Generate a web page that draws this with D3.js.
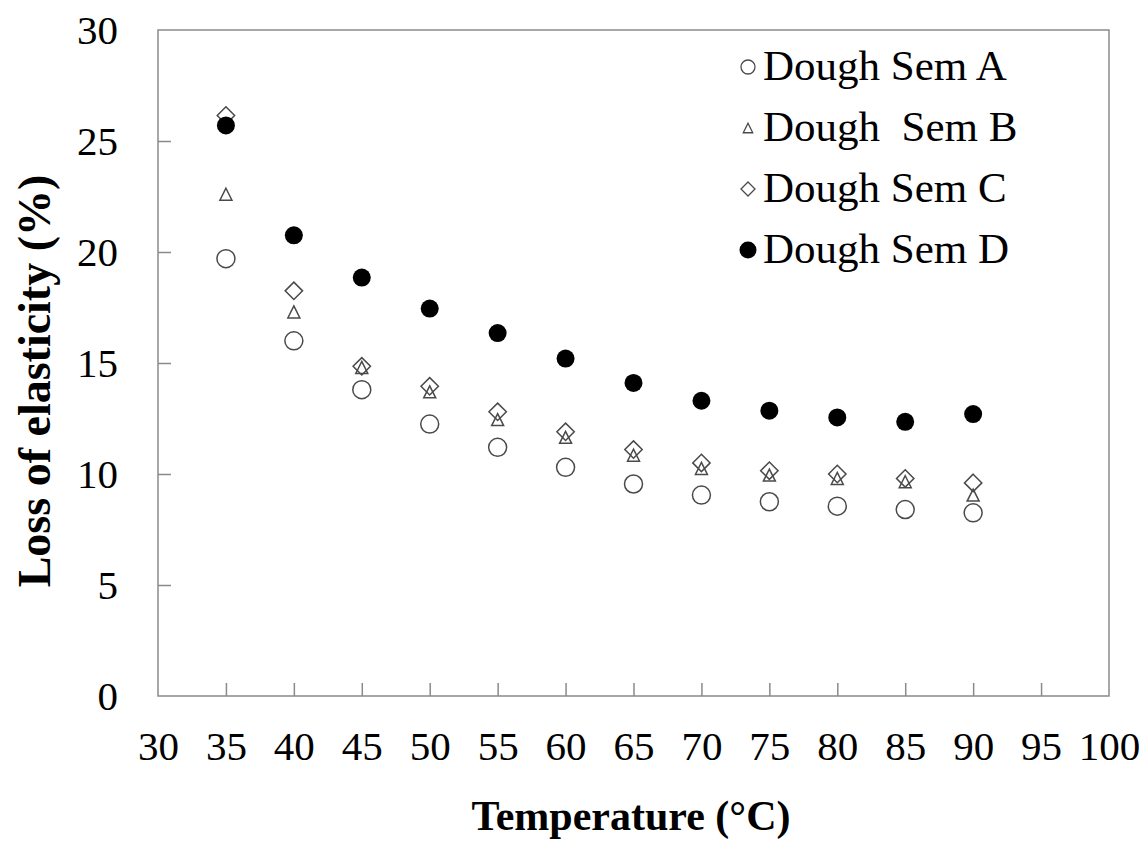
<!DOCTYPE html>
<html>
<head>
<meta charset="utf-8">
<script src="https://cdn.jsdelivr.net/npm/d3@7"></script>
<style>
  html, body { margin: 0; padding: 0; background: #fff; }
  svg { display: block; }
  text { font-family: "Liberation Serif", "Times New Roman", serif; fill: #000; }
</style>
</head>
<body>
<svg id="chart" width="1145" height="850"></svg>
<script>
// ---- data ----
const temperatures = [35, 40, 45, 50, 55, 60, 65, 70, 75, 80, 85, 90];
const semA = [19.7, 16.0, 13.8, 12.25, 11.2, 10.3, 9.55, 9.05, 8.75, 8.55, 8.4, 8.25];
const semB = [22.6, 17.3, 14.8, 13.7, 12.45, 11.65, 10.85, 10.25, 9.95, 9.8, 9.65, 9.05];
const semC = [26.15, 18.25, 14.85, 13.95, 12.8, 11.9, 11.1, 10.5, 10.15, 10.0, 9.8, 9.6];
const semD = [25.7, 20.75, 18.85, 17.45, 16.35, 15.2, 14.1, 13.3, 12.85, 12.55, 12.35, 12.7];
const seriesNames = ["Dough Sem A", "Dough  Sem B", "Dough Sem C", "Dough Sem D"];
const xTicks = [30, 35, 40, 45, 50, 55, 60, 65, 70, 75, 80, 85, 90, 95, 100];
const yTicks = [0, 5, 10, 15, 20, 25, 30];

(function () {
  // ---- layout ----
  const pLeft = 158, pRight = 1109, pTop = 30, pBottom = 696;
  const svg = d3.select("#chart");
  const x = d3.scaleLinear().domain([30, 100]).range([pLeft, pRight]);
  const y = d3.scaleLinear().domain([0, 30]).range([pBottom, pTop]);

  const frameColor = "#8a8a8a";

  // frame
  svg.append("rect")
    .attr("x", pLeft).attr("y", pTop)
    .attr("width", pRight - pLeft).attr("height", pBottom - pTop)
    .attr("fill", "none").attr("stroke", frameColor).attr("stroke-width", 1.5);

  // x axis
  const gx = svg.append("g").attr("transform", `translate(0,${pBottom})`)
    .call(d3.axisBottom(x).tickValues(xTicks).tickSizeInner(-13).tickSizeOuter(0).tickPadding(35));
  gx.select(".domain").remove();
  gx.selectAll(".tick line").attr("stroke", frameColor).attr("stroke-width", 1.5);
  gx.selectAll(".tick text").attr("font-size", 41).attr("font-family", "Liberation Serif").attr("fill", "#000");
  gx.selectAll(".tick").filter(d => d === 30 || d === 100).select("line").remove();

  // y axis
  const gy = svg.append("g").attr("transform", `translate(${pLeft},0)`)
    .call(d3.axisLeft(y).tickValues(yTicks).tickSizeInner(-13).tickSizeOuter(0).tickPadding(40));
  gy.select(".domain").remove();
  gy.selectAll(".tick line").attr("stroke", frameColor).attr("stroke-width", 1.5);
  gy.selectAll(".tick text").attr("font-size", 41).attr("font-family", "Liberation Serif").attr("fill", "#000");
  gy.selectAll(".tick").filter(d => d === 0 || d === 30).select("line").remove();

  // marker shapes
  function circlePath(r) { const p = d3.path(); p.moveTo(r, 0); p.arc(0, 0, r, 0, 2 * Math.PI); p.closePath(); return p.toString(); }
  function trianglePath(w) { const h = w; return `M0,${-h/2}L${w/2},${h/2}L${-w/2},${h/2}Z`; }
  function diamondPath(s) { return `M0,${-s}L${s},0L0,${s}L${-s},0Z`; }

  const markerStroke = "#4a4a4a";
  const styles = [
    { path: circlePath(9), fill: "none", stroke: markerStroke, lpath: circlePath(7) },
    { path: trianglePath(12), fill: "none", stroke: markerStroke, lpath: trianglePath(9.5) },
    { path: diamondPath(8.7), fill: "none", stroke: markerStroke, lpath: diamondPath(7) },
    { path: circlePath(9), fill: "#000", stroke: "#000", lpath: circlePath(8.5) }
  ];
  const allSeries = [semA, semB, semC, semD];

  allSeries.forEach((vals, i) => {
    const st = styles[i];
    svg.append("g").selectAll("path")
      .data(temperatures.map((t, j) => ({ t, v: vals[j] })))
      .join("path")
      .attr("d", st.path)
      .attr("transform", d => `translate(${x(d.t)},${y(d.v)})`)
      .attr("fill", st.fill)
      .attr("stroke", st.stroke)
      .attr("stroke-width", i === 3 ? 0 : 1.5);
  });

  // legend
  const legend = svg.append("g").attr("transform", "translate(748,80)");
  seriesNames.forEach((name, i) => {
    const st = styles[i];
    const row = legend.append("g").attr("transform", `translate(0,${i * 61})`);
    row.append("path").attr("d", st.lpath)
      .attr("transform", "translate(0,-13)")
      .attr("fill", st.fill).attr("stroke", st.stroke)
      .attr("stroke-width", i === 3 ? 0 : 1.3);
    row.append("text").attr("x", 15).attr("y", 0)
      .attr("font-size", 43)
      .style("white-space", "pre")
      .text(name);
  });

  // axis titles
  svg.append("text")
    .attr("x", 631).attr("y", 830)
    .attr("text-anchor", "middle")
    .attr("font-size", 42).attr("font-weight", "bold")
    .text("Temperature (°C)");

  svg.append("text")
    .attr("transform", "translate(50,381) rotate(-90)")
    .attr("text-anchor", "middle")
    .attr("font-size", 46).attr("font-weight", "bold")
    .text("Loss of elasticity (%)");
})();
</script>
</body>
</html>
